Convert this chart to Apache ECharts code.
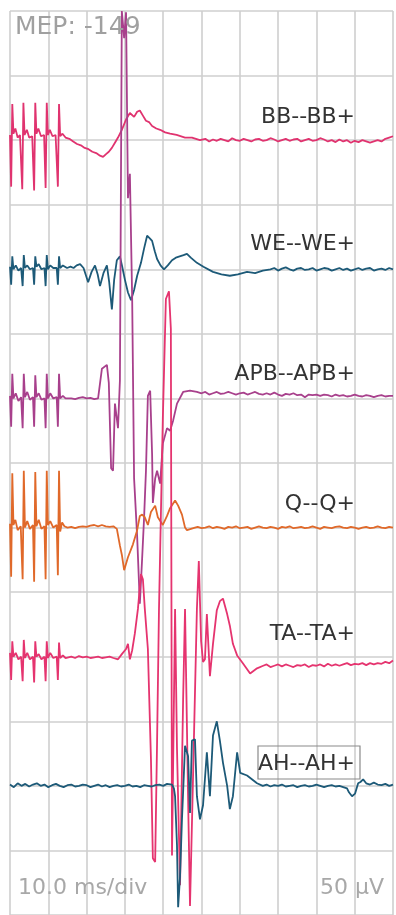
<!DOCTYPE html>
<html>
<head>
<meta charset="utf-8">
<title>MEP</title>
<script src="https://cdn.jsdelivr.net/npm/echarts@6/dist/echarts.min.js"></script>
<style>
  html, body { margin: 0; padding: 0; background: #fff; }
  #chart { width: 396px; height: 915px; }
</style>
</head>
<body>
<div id="chart"></div>
<script>
// channel labels, top to bottom
const channelNames = ['BB--BB+', 'WE--WE+', 'APB--APB+', 'Q--Q+', 'TA--TA+', 'AH--AH+'];
const mepText = 'MEP: -149';
const sweepText = '10.0 ms/div';
const gainText = '50 µV';

// traces as [time in ms, amplitude in µV]
const bbTrace = [
  [0, 4], [0.3, -36], [0.6, 28], [0.9, 5], [1.4, 9], [2.0, 2], [2.6, 4],
  [3.2, -38], [3.5, 29], [3.8, 4], [4.4, 8], [5.0, 2], [5.8, 3],
  [6.3, -39], [6.6, 29], [6.9, 5], [7.4, 9], [8.1, 3], [8.9, 4],
  [9.3, -37], [9.6, 29], [9.9, 4], [10.4, 8], [11.1, 3], [11.9, 4],
  [12.5, -36], [12.8, 28], [13.1, 3], [13.7, 5], [14.5, 2], [15.5, 1], [16.5, -1],
  [17.5, -3], [18.5, -4], [19.5, -6], [20.5, -7], [21.5, -9], [22.5, -10], [23.5, -12],
  [24.3, -13], [25.0, -11], [25.8, -9], [26.6, -6], [27.4, -2], [28.2, 2], [29.2, 8],
  [30.3, 16], [31.3, 21], [32.4, 18], [33.2, 22], [33.9, 23], [34.7, 19], [35.5, 15],
  [36.3, 14], [37.1, 11], [38.2, 9], [39.2, 8], [40.5, 6], [41.8, 5], [43.5, 4],
  [45.7, 2], [47.5, 2], [49.6, 0], [51, 1], [52, -1], [53, 0.5], [54, -0.5], [55, 1],
  [56, 0], [57, -1], [58, 1.5], [59, 0], [60, -0.5], [61, 1], [62, 0], [63, -1],
  [64, 0.5], [65, 1], [66, -0.5], [67, 0], [68, 1.5], [69, 0.5], [70, -1], [71, 0],
  [72, 1], [73, -0.5], [74, 0.5], [75, 1], [76, -1], [77, 0], [78, 1], [79, -0.5],
  [80, 0], [81, 1.5], [82, 0.5], [83, -1], [84, 0], [85, -1.5], [86, 0.5], [87, -1],
  [88, 0], [89, -2], [90, -0.5], [91, -1.5], [92, 0], [93, -1], [94, -2], [95, -1],
  [96, 0], [97, -1], [98, 1], [99, 2], [100, 3]
];

const weTrace = [
  [0, 2], [0.3, -12], [0.6, 10], [0.9, 0], [1.5, 3], [2.2, -1], [2.9, 1],
  [3.3, -13], [3.6, 11], [3.9, 1], [4.5, 3], [5.2, 0], [6.0, 1],
  [6.3, -12], [6.6, 10], [6.9, 2], [7.5, 4], [8.2, 0], [9.0, 1],
  [9.3, -13], [9.6, 11], [9.9, 0], [10.5, 3], [11.3, 1], [12.2, 1],
  [12.5, -12], [12.8, 10], [13.1, 1], [13.8, 3], [14.9, 1], [15.8, 2], [16.6, 1],
  [17.4, 3], [18.3, 4], [19.2, 1], [20.4, -10], [21.3, -2], [22.2, 3], [22.9, -4],
  [23.5, -13], [24.4, -3], [25.3, 3], [25.9, -10], [26.6, -31], [27.2, -8], [27.9, 7],
  [28.7, 10], [29.3, 2], [30.0, -8], [30.8, -18], [31.6, -24], [32.4, -16], [33.2, -5],
  [34.2, 5], [35.0, 16], [35.8, 26], [36.5, 24], [37.1, 22], [37.8, 14], [38.4, 8],
  [39.3, 3], [40.2, 0], [41.2, 3], [42.3, 7], [43.3, 9], [44.3, 10], [45.3, 11],
  [46.2, 12], [47.2, 9], [48.8, 5], [50.5, 2], [53, -2], [55.2, -4], [57.4, -5],
  [59.5, -4], [61.9, -2], [64, -3], [66, -1], [68, 0], [69, 1], [70, -1], [71, 0.5],
  [72, 1.5], [73, 0], [74, -1], [75, 0.5], [76, 1], [77, -0.5], [78, 0], [79, 1],
  [80, -1], [81, 0], [82, 1], [83, 0.5], [84, -1], [85, 0], [86, 1], [87, -0.5],
  [88, 0.5], [89, -1], [90, 0], [91, 1], [92, -0.5], [93, 0.5], [94, 1], [95, -1],
  [96, 0], [97, 0.5], [98, -0.5], [99, 1], [100, 0]
];

const apbTrace = [
  [0, 2], [0.3, -22], [0.6, 19], [0.9, 0], [1.5, 4], [2.2, -2], [2.9, 1],
  [3.3, -23], [3.6, 19], [3.9, 1], [4.5, 5], [5.2, -1], [6.0, 1],
  [6.3, -22], [6.6, 18], [6.9, 1], [7.5, 4], [8.2, -1], [9.0, 0],
  [9.3, -23], [9.6, 19], [9.9, 0], [10.5, 4], [11.3, 0], [12.2, 1],
  [12.5, -22], [12.8, 19], [13.1, 0], [13.8, 2], [14.5, 0], [15, 1], [16, 0],
  [17, -0.5], [18, 0.5], [19, 1], [20, 0], [21, 0.5], [22, -0.5], [23.0, 0],
  [24.0, 23], [25.3, 26], [25.8, 12], [26.4, -54], [26.9, -56], [27.4, -4], [28.2, -23],
  [28.7, 14], [29.2, 300], [29.8, 279], [30.3, 299], [30.8, 155], [31.3, 174], [31.9, 77],
  [32.4, -62], [33.2, -107], [33.9, -159], [34.5, -124], [35.0, -93], [35.5, -56], [36.0, 2],
  [36.6, 6], [37.1, -43], [37.3, -81], [37.9, -62], [38.4, -56], [39.2, -66], [39.9, -35],
  [41.0, -23], [41.8, -25], [42.6, -17], [43.6, -4], [45.2, 5], [47.0, 6], [48.8, 5],
  [50, 4], [51, 5], [52, 3], [53, 4], [54, 5], [55, 3.5], [56, 4], [57, 5], [58, 4],
  [59, 3], [60, 4], [61, 4.5], [62, 3], [63, 4], [64, 5], [65, 3.5], [66, 3], [67, 4],
  [68, 3], [69, 4.5], [70, 3], [71, 2], [72, 3.5], [73, 3], [74, 4], [75, 2.5], [76, 3],
  [77, 1], [78, 3], [79, 2.5], [80, 3], [81, 2], [82, 3], [83, 2.5], [84, 1.5], [85, 3],
  [86, 2], [87, 2.5], [88, 1.5], [89, 2], [90, 3], [91, 2], [92, 1.5], [93, 2.5], [94, 2],
  [95, 1], [96, 2], [97, 2.5], [98, 1.5], [99, 2], [100, 2]
];

const qTrace = [
  [0, 3], [0.3, -38], [0.6, 42], [0.9, 2], [1.4, 6], [2.0, -2], [2.8, 1],
  [3.3, -40], [3.6, 44], [3.9, 0], [4.5, 5], [5.2, -1], [6.0, 2],
  [6.3, -42], [6.6, 43], [6.9, 1], [7.5, 6], [8.2, -1], [9.0, 1],
  [9.3, -40], [9.6, 44], [9.9, 2], [10.5, 5], [11.3, 0], [12.2, 2],
  [12.5, -37], [12.8, 44], [13.1, -3], [13.6, 4], [14.2, 1], [15, 0], [16, 0.5],
  [17, -0.5], [18, 0.5], [19, 1], [20, 0.5], [21, 1.5], [22, 2], [23, 1], [24, 2],
  [25, 1], [26, 0.5], [27, 1], [27.9, -1], [28.7, -14], [29.2, -21], [29.8, -33],
  [30.8, -23], [32.1, -13], [33.2, -2], [33.9, 9], [34.5, 10], [35.2, 8], [36.0, 2],
  [36.8, 12], [37.9, 17], [38.6, 8], [39.9, 2], [41.0, 9], [41.8, 15], [43.1, 21],
  [43.9, 17], [44.9, 10], [45.7, 0], [46.2, -2], [48.3, 0], [49, 0.5], [50, -0.5],
  [51, 0], [52, 1], [53, -0.5], [54, 0.5], [55, 0], [56, -1], [57, 0.5], [58, 0],
  [59, 1], [60, -0.5], [61, 0], [62, 0.5], [63, -1], [64, 0], [65, 1], [66, 0],
  [67, -0.5], [68, 0.5], [69, 0], [70, -1], [71, 0.5], [72, 0], [73, 1], [74, -0.5],
  [75, 0], [76, 0.5], [77, -0.5], [78, 0], [79, 1], [80, 0], [81, -1], [82, 0.5],
  [83, 0], [84, -0.5], [85, 0.5], [86, 1], [87, 0], [88, -0.5], [89, 0.5], [90, 0],
  [91, -1], [92, 0], [93, 0.5], [94, -0.5], [95, 0], [96, 1], [97, 0], [98, -0.5],
  [99, 0.5], [100, 0]
];

const taTrace = [
  [0, 3], [0.3, -18], [0.6, 12], [0.9, 0], [1.5, 3], [2.2, -2], [2.9, 0],
  [3.3, -19], [3.6, 13], [3.9, -1], [4.5, 3], [5.2, -2], [6.0, 0],
  [6.3, -20], [6.6, 12], [6.9, 0], [7.5, 2], [8.2, -2], [9.0, 0],
  [9.3, -19], [9.6, 12], [9.9, -1], [10.5, 3], [11.3, -1], [12.2, 0],
  [12.5, -18], [12.8, 11], [13.1, -1], [13.8, 1], [14.5, -1], [15, -0.5], [16, 0],
  [17, -1], [18, 0.5], [19, -0.5], [20, 0], [21, -1], [22, -0.5], [23, 0], [24, -1],
  [25, -0.5], [26, 0], [27, -1], [28.2, -2], [29.2, 2], [30.3, 6], [30.8, 10],
  [31.3, -2], [31.9, 5], [32.6, 18], [33.4, 37], [34.2, 64], [34.7, 60], [35.2, 37],
  [36.0, 6], [36.8, -79], [37.3, -156], [37.9, -159], [38.4, -66], [38.9, 37], [39.9, 184],
  [40.7, 277], [41.5, 283], [42.0, 254], [42.3, -154], [43.1, 37], [43.6, -71], [44.4, -177],
  [45.2, -33], [45.7, 37], [46.5, -110], [47.0, -193], [47.8, -92], [48.8, 37], [49.3, 74],
  [49.9, 12], [50.4, -4], [50.9, -2], [51.4, 33], [52.2, -15], [53.0, 10], [54.0, 36],
  [54.8, 43], [55.6, 45], [56.7, 33], [57.4, 24], [58.2, 10], [59.3, 1], [60.8, -5],
  [62.7, -13], [64.5, -9], [66.1, -7], [67, -6], [68, -8], [69, -7], [70, -6], [71, -7.5],
  [72, -6], [73, -7], [74, -8], [75, -6.5], [76, -7], [77, -6], [78, -8], [79, -6.5],
  [80, -7], [81, -6], [82, -7.5], [83, -5.5], [84, -7], [85, -6], [86, -7], [87, -6],
  [88, -5], [89, -6.5], [90, -5.5], [91, -6], [92, -5], [93, -6.5], [94, -5], [95, -6],
  [96, -5], [97, -5.5], [98, -4], [99, -5], [100, -3]
];

const ahTrace = [
  [0, 1], [1, -1], [2, 2], [3, 0], [4, 1.5], [5, -0.5], [6, 1], [7, 2], [8, 0], [9, 1],
  [10, -1], [11, 0.5], [12, 1.5], [13, 0], [14, -1], [15, 0.5], [16, 1], [17, -0.5],
  [18, 0], [19, 1], [20, 0.5], [21, -1], [22, 0], [23, 1], [24, -0.5], [25, 0.5],
  [26, -1], [27, 0], [28, 0.5], [29, -0.5], [30, 0], [31, 1], [32, -0.5], [33, 0],
  [34, -1], [35, 0.5], [36, 0], [37, -0.5], [38, 0.5], [39, 1], [40, 0], [41, 1.5],
  [42.3, 1], [42.8, -2], [43.1, -8], [43.6, -46], [43.9, -94], [44.4, -70], [44.9, -26],
  [45.2, -5], [45.7, 31], [46.5, 23], [47.0, -21], [47.5, 35], [48.3, 36], [48.8, -8],
  [49.6, -26], [50.4, -15], [51.4, 26], [52.2, -8], [53.0, 39], [54.0, 50], [54.8, 35],
  [55.6, 18], [56.7, 0], [57.4, -18], [58.2, -8], [59.3, 26], [60.1, 10], [61.9, 8],
  [64.5, 2], [65, 1], [66, 0], [67, 1], [68, -0.5], [69, 0.5], [70, 0], [71, 1],
  [72, -0.5], [73, 0], [74, 0.5], [75, -1], [76, 0], [77, 0.5], [78, -0.5], [79, 0],
  [80, 1], [81, 0], [82, -1], [83, 0], [84, 0.5], [85, -0.5], [86, 0], [87, -1],
  [88, -2], [88.5, -5], [89.3, -8], [90.1, -6], [90.9, 2], [91.5, 3], [92.2, 5], [93, 2],
  [94, 1], [95, 2.5], [96, 1], [97, 0.5], [98, 1.5], [99, 0], [100, 1]
];

const traces = [bbTrace, weTrace, apbTrace, qTrace, taTrace, ahTrace];
const colors = ['#e0336f', '#1d5a78', '#a8408c', '#e0692a', '#e5346f', '#1d5a78'];

const divUv = 50;      // 50 µV per division
const divCount = 14;   // vertical divisions on screen

const myChart = echarts.init(document.getElementById('chart'), null, { renderer: 'canvas' });

// each channel sits two divisions below the previous one
const series = traces.map((trace, i) => {
  const baseline = (12 - 2 * i) * divUv;
  return {
    name: channelNames[i],
    type: 'line',
    data: trace.map(p => [p[0], p[1] + baseline]),
    showSymbol: false,
    symbol: 'none',
    clip: true,
    lineStyle: { color: colors[i], width: 1.8 },
    z: 2 + i
  };
});

const labelY = [117, 244, 374, 504, 634, 764];
const labelFont = '22px "DejaVu Sans"';

const graphic = channelNames.map((name, i) => ({
  type: 'text',
  x: 355,
  y: labelY[i],
  z: 20,
  style: {
    text: name,
    font: labelFont,
    fill: '#333',
    align: 'right',
    verticalAlign: 'middle',
    textAlign: 'right',
    textVerticalAlign: 'middle'
  }
}));

graphic.push({
  type: 'rect',
  z: 19,
  shape: { x: 258, y: 746, width: 102, height: 33 },
  style: { fill: 'none', stroke: '#8a8a8a', lineWidth: 1.2 }
});

graphic.push({
  type: 'text', x: 15, y: 27, z: 20,
  style: { text: mepText, font: '25px "DejaVu Sans"', fill: '#a0a0a0',
    align: 'left', verticalAlign: 'middle', textAlign: 'left', textVerticalAlign: 'middle' }
});
graphic.push({
  type: 'text', x: 18, y: 888, z: 20,
  style: { text: sweepText, font: '22px "DejaVu Sans"', fill: '#a8a8a8',
    align: 'left', verticalAlign: 'middle', textAlign: 'left', textVerticalAlign: 'middle' }
});
graphic.push({
  type: 'text', x: 384, y: 888, z: 20,
  style: { text: gainText, font: '22px "DejaVu Sans"', fill: '#a8a8a8',
    align: 'right', verticalAlign: 'middle', textAlign: 'right', textVerticalAlign: 'middle' }
});

const option = {
  animation: false,
  backgroundColor: '#fff',
  grid: { left: 10, right: 3, top: 11, bottom: 0, containLabel: false },
  xAxis: {
    type: 'value',
    min: 0,
    max: 100,
    interval: 10,
    axisLine: { show: false },
    axisTick: { show: false },
    axisLabel: { show: false },
    splitLine: { show: true, lineStyle: { color: '#cfcfcf', width: 1.6 } }
  },
  yAxis: {
    type: 'value',
    min: 0,
    max: divCount * divUv,
    interval: divUv,
    axisLine: { show: false },
    axisTick: { show: false },
    axisLabel: { show: false },
    splitLine: { show: true, lineStyle: { color: '#cfcfcf', width: 1.6 } }
  },
  series: series,
  graphic: graphic
};

myChart.setOption(option);
</script>
</body>
</html>
